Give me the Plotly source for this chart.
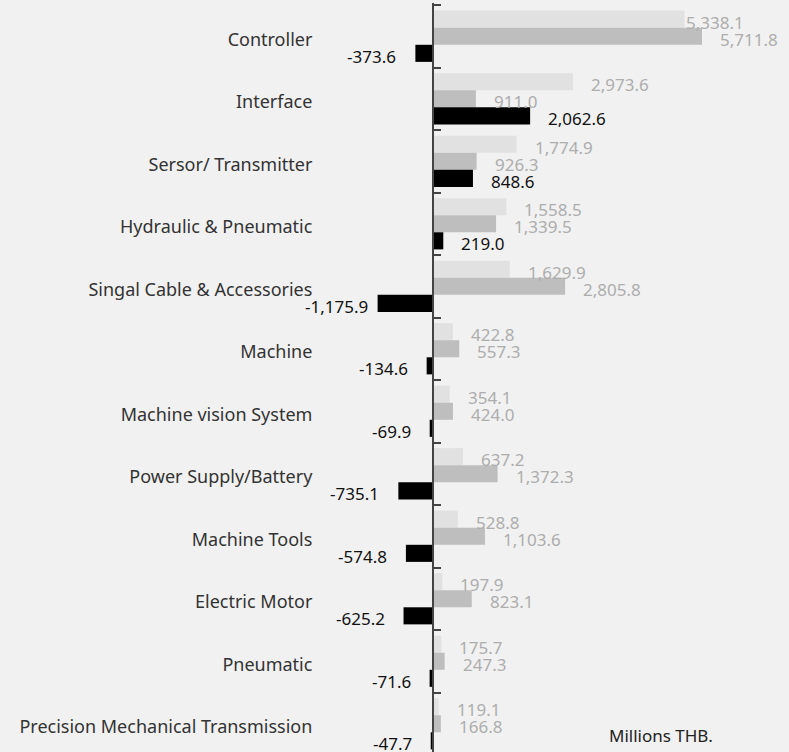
import plotly.graph_objects as go

categories = ["Controller", "Interface", "Sersor/ Transmitter", "Hydraulic & Pneumatic",
              "Singal Cable & Accessories", "Machine", "Machine vision System",
              "Power Supply/Battery", "Machine Tools", "Electric Motor", "Pneumatic",
              "Precision Mechanical Transmission"]
series_a = [5338.1, 2973.6, 1774.9, 1558.5, 1629.9, 422.8, 354.1, 637.2, 528.8, 197.9, 175.7, 119.1]
series_b = [5711.8, 911.0, 926.3, 1339.5, 2805.8, 557.3, 424.0, 1372.3, 1103.6, 823.1, 247.3, 166.8]
series_c = [-373.6, 2062.6, 848.6, 219.0, -1175.9, -134.6, -69.9, -735.1, -574.8, -625.2, -71.6, -47.7]
unit_label = "Millions THB."

colors = ["#e1e1e1", "#bebebe", "#000000"]
label_colors = ["#adadad", "#adadad", "#111111"]
FONT = "Noto Sans"
W, H = 789, 752
T, B = 3, 0
BARGAP = 0.18
XMIN, XMAX = -9193, 7559
YRANGE = [11.452, -0.532]

fig = go.Figure()
for vals, col in zip([series_a, series_b, series_c], colors):
    fig.add_trace(go.Bar(y=categories, x=vals, orientation="h", marker_color=col,
                         marker_line_width=0, showlegend=False, hoverinfo="skip"))

w = (1 - BARGAP) / 3
annotations = []
for k, vals in enumerate([series_a, series_b, series_c]):
    for i, v in enumerate(vals):
        yc = i + (k - 1) * w
        if v >= 0:
            xs = 16
            if k == 0 and v > 5000:
                xs = 0
            annotations.append(dict(x=v, y=yc, xref="x", yref="y", text=f"{v:,.1f}",
                                    showarrow=False, xanchor="left", xshift=xs, yshift=-3,
                                    font=dict(family=FONT, size=17, color=label_colors[k])))
        else:
            xs = -17 if v > -1000 else -8
            annotations.append(dict(x=v, y=yc, xref="x", yref="y", text=f"{v:,.1f}",
                                    showarrow=False, xanchor="right", xshift=xs, yshift=-3,
                                    font=dict(family=FONT, size=17, color=label_colors[k])))

annotations.append(dict(x=661 / W, y=1 - (735 - T) / (H - T - B), xref="paper", yref="paper",
                        text=unit_label, showarrow=False, xanchor="center", yanchor="middle",
                        font=dict(family=FONT, size=17, color="#222222")))

pos = (0 - XMIN) / (XMAX - XMIN)

fig.update_layout(
    width=W, height=H,
    margin=dict(l=0, r=0, t=T, b=B, pad=0),
    barmode="group", bargap=BARGAP, bargroupgap=0,
    paper_bgcolor="#f1f1f1", plot_bgcolor="#f1f1f1",
    xaxis=dict(range=[XMIN, XMAX], visible=False, showgrid=False, zeroline=False),
    yaxis=dict(type="category", categoryorder="array", categoryarray=categories,
               range=YRANGE, anchor="free", position=pos, showline=True,
               linecolor="#444444", linewidth=2, ticks="inside", tickson="boundaries",
               ticklen=7, tickwidth=2, tickcolor="#444444", showgrid=False,
               ticklabelstandoff=116, ticklabelshift=-3,
               tickfont=dict(family=FONT, size=18, color="#333333")),
    annotations=annotations,
)

fig.write_html("out.html", config={"displayModeBar": False},
               post_script="document.body.style.margin='0';document.body.style.padding='0';"
                           "document.body.style.background='#f1f1f1';")
